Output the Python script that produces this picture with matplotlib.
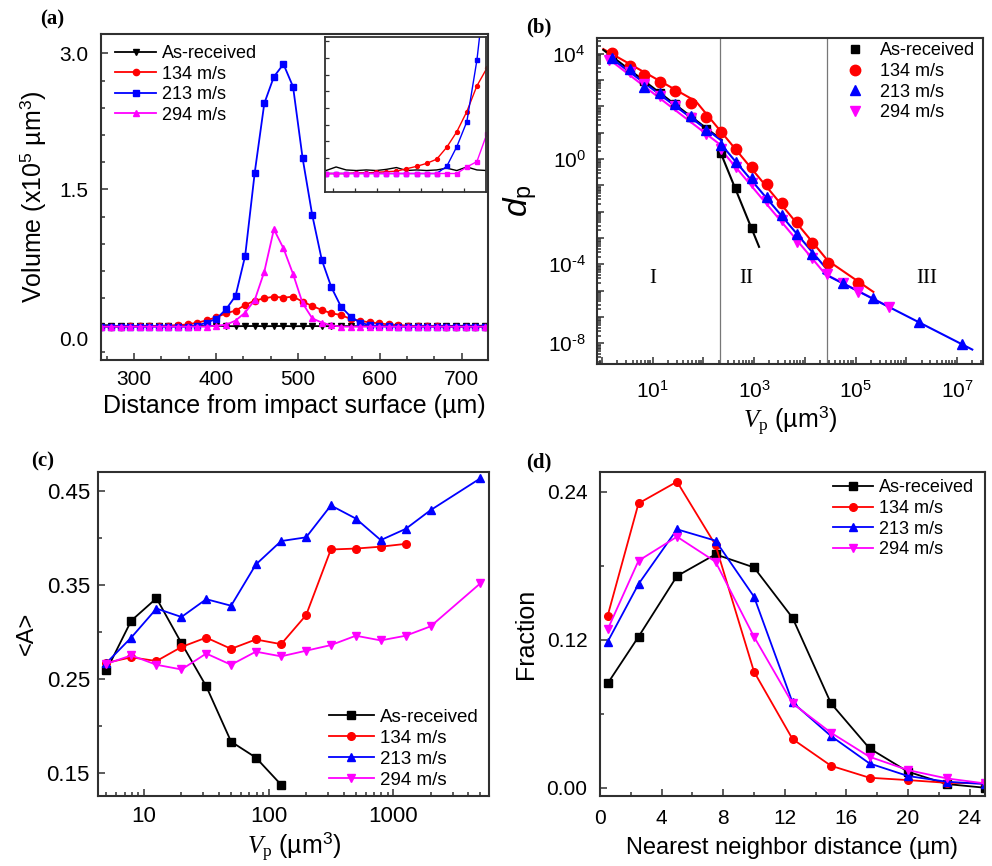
import numpy as np
import matplotlib
matplotlib.use("Agg")
import matplotlib.pyplot as plt
from matplotlib.ticker import FixedLocator, FuncFormatter, LogLocator, NullFormatter, MultipleLocator
from matplotlib.transforms import ScaledTranslation

plt.rcParams['font.family'] = ['Liberation Sans', 'DejaVu Sans']
plt.rcParams['mathtext.fontset'] = 'custom'
plt.rcParams['mathtext.rm'] = 'Liberation Serif'
plt.rcParams['mathtext.it'] = 'Liberation Serif:italic'
plt.rcParams['mathtext.sf'] = 'Liberation Sans'
plt.rcParams['mathtext.bf'] = 'Liberation Sans:italic'

labels = ['As-received', '134 m/s', '213 m/s', '294 m/s']
colors = ['#000000', '#ff0000', '#0000ff', '#ff00ff']

# ---------------- (a) volume profile ----------------
dist_a = [236.7, 248.4, 260.1, 271.8, 283.5, 295.2, 306.9, 318.6, 330.3, 342.0, 353.7, 365.4,
          377.1, 388.8, 400.5, 412.2, 423.9, 435.6, 447.3, 459.0, 470.7, 482.4, 494.1, 505.8,
          517.5, 529.2, 540.9, 552.6, 564.3, 576.0, 587.7, 599.4, 611.1, 622.8, 634.5, 646.2,
          657.9, 669.6, 681.3, 693.0, 704.7, 716.4, 728.1, 739.8]
vol_asrec = [-0.010, -0.004, -0.009, -0.010, -0.009, -0.010, -0.008, -0.005, -0.010, -0.009, -0.010, -0.009,
             -0.006, -0.010, -0.004, -0.009, -0.010, -0.009, -0.008, -0.010, -0.009, -0.008, -0.010, -0.009,
             -0.008, -0.010, -0.009, -0.008, -0.009, -0.010, -0.008, -0.009, -0.010, -0.008, -0.009, -0.010,
             -0.008, -0.009, -0.008, -0.007, -0.005, -0.006, -0.005, -0.008]
vol_134 = [-0.015, -0.015, -0.015, -0.014, -0.014, -0.013, -0.012, -0.011, -0.007, -0.003, 0.002, 0.009,
           0.029, 0.055, 0.089, 0.132, 0.162, 0.224, 0.272, 0.298, 0.316, 0.305, 0.316, 0.261,
           0.213, 0.169, 0.132, 0.114, 0.070, 0.048, 0.033, 0.020, 0.010, 0.003, -0.005, -0.010,
           -0.012, -0.013, -0.014, -0.015, -0.015, -0.015, -0.015, -0.015]
vol_213 = [-0.015, -0.015, -0.015, -0.015, -0.015, -0.015, -0.015, -0.015, -0.015, -0.015, -0.015, -0.015,
           -0.003, 0.030, 0.072, 0.175, 0.324, 0.765, 1.684, 2.449, 2.743, 2.882, 2.632, 1.842,
           1.217, 0.721, 0.419, 0.206, 0.096, 0.030, 0.000, -0.010, -0.013, -0.015, -0.015, -0.015,
           -0.015, -0.015, -0.015, -0.015, -0.015, -0.015, -0.015, -0.015]
vol_294 = [-0.015, -0.015, -0.015, -0.015, -0.015, -0.015, -0.015, -0.015, -0.015, -0.015, -0.015, -0.015,
           -0.015, -0.015, -0.004, 0.005, 0.052, 0.140, 0.279, 0.592, 1.059, 0.849, 0.566, 0.243,
           0.077, 0.030, 0.000, -0.015, -0.015, -0.015, -0.015, -0.015, -0.015, -0.015, -0.015, -0.015,
           -0.015, -0.015, -0.015, -0.015, -0.015, -0.015, -0.015, -0.015]

# ---------------- (b) d_p vs V_p ----------------
vp_b_asrec = [1.6, 3.56, 6.82, 13.9, 27.5, 56.2, 112, 219, 440, 897]
dp_b_asrec = [8.9e3, 2.8e3, 891, 316, 126, 39.8, 14.1, 1.66, 0.0776, 0.00251]
vp_b_134 = [1.6, 3.56, 6.82, 13.9, 27.5, 56.2, 112, 219, 440, 897, 1770, 3510, 6920, 14060, 28300, 110400]
dp_b_134 = [1.12e4, 3.59e3, 1.58e3, 832, 389, 133, 41.3, 11.1, 2.44, 0.519, 0.111, 0.0210, 0.00421,
            6.34e-4, 1.10e-4, 2.01e-5]
vp_b_213 = [1.6, 3.56, 6.82, 13.9, 27.5, 56.2, 112, 219, 440, 897, 1770, 3510, 6920, 14060,
            55800, 2.24e5, 1.78e6, 1.28e7]
dp_b_213 = [6920, 2630, 537, 316, 126, 43.6, 12.9, 3.55, 0.794, 0.186, 0.0372, 0.00759, 0.00145,
            2.51e-4, 2.0e-5, 5.13e-6, 6.61e-7, 9.33e-8]
vp_b_294 = [1.39, 3.56, 6.82, 13.9, 27.5, 56.2, 112, 219, 440, 897, 1770, 3510, 6920, 13700,
            26900, 55800, 1.10e5, 4.47e5]
dp_b_294 = [6030, 2000, 708, 251, 100, 35.5, 8.91, 2.51, 0.525, 0.126, 0.0251, 0.00501, 7.08e-4,
            1.70e-4, 4.32e-5, 2.0e-5, 9.12e-6, 2.45e-6]
# fitted segments (x pairs, y pairs)
fit_asrec = [([1.06, 229], [1.41e4, 5.37]), ([214, 1250], [1.93, 4.68e-4])]
fit_134 = [([1.06, 70.8], [1.51e4, 158]), ([70.8, 28200], [158, 1.41e-4]), ([28200, 2.24e5], [1.41e-4, 9.12e-6])]
fit_213 = [([1.26, 229], [8910, 5.01]), ([214, 26300], [3.98, 7.08e-5]), ([23200, 2.0e7], [4.57e-5, 5.89e-8])]
fit_294 = [([1.26, 214], [7080, 3.55]), ([214, 25100], [2.51, 4.37e-5]), ([25100, 5.01e5], [4.37e-5, 2.24e-6])]
regime_bounds = [213, 27000]
regime_names = ['I', 'II', 'III']

# ---------------- (c) <A> vs V_p ----------------
vp_c = [5, 7.9, 12.6, 20, 31.6, 50, 79, 126, 200, 316, 501, 794, 1259, 1995, 5012]
A_asrec = [0.259, 0.312, 0.336, 0.288, 0.242, 0.183, 0.166, 0.137]
A_134 = [0.267, 0.273, 0.269, 0.284, 0.294, 0.282, 0.292, 0.287, 0.318, 0.388, 0.389, 0.391, 0.394]
A_213 = [0.267, 0.294, 0.325, 0.316, 0.335, 0.328, 0.372, 0.397, 0.401, 0.435, 0.421, 0.398, 0.410, 0.430, 0.464]
A_294 = [0.266, 0.275, 0.265, 0.260, 0.277, 0.265, 0.279, 0.274, 0.280, 0.286, 0.296, 0.291, 0.296, 0.306, 0.352]

# ---------------- (d) nearest neighbour distance ----------------
nnd = [0.5, 2.5, 5, 7.5, 10, 12.5, 15, 17.5, 20, 22.5, 25]
frac_asrec = [0.0846, 0.1224, 0.1716, 0.1892, 0.1786, 0.1378, 0.0684, 0.0319, 0.0130, 0.0030, 0.0000]
frac_134 = [0.1395, 0.2305, 0.2481, 0.1968, 0.0941, 0.0395, 0.0178, 0.0081, 0.0062, 0.0040, 0.0035]
frac_213 = [0.1184, 0.1651, 0.2095, 0.2003, 0.1549, 0.0692, 0.0419, 0.0197, 0.0095, 0.0049, 0.0030]
frac_294 = [0.1284, 0.1840, 0.2035, 0.1832, 0.1224, 0.0684, 0.0446, 0.0251, 0.0143, 0.0076, 0.0035]

# ====================================================
W, H = 992, 866
fig = plt.figure(figsize=(W / 100, H / 100), dpi=100)


def box(l, r, t, b):
    return [l / W, 1 - b / H, (r - l) / W, (b - t) / H]


SP = '#303030'


def style(ax, fs=15):
    for s in ax.spines.values():
        s.set_linewidth(1.5)
        s.set_color(SP)
    ax.tick_params(which='both', direction='in', top=False, right=False, colors=SP,
                   labelcolor='black', labelsize=fs, width=1.1)
    ax.tick_params(which='major', length=5)
    ax.tick_params(which='minor', length=3)


def pow10(e):
    e = e.replace('-', '\u2010')
    return r'$\mathsf{10}^{\mathsf{' + e + '}}$'


# ---- (a)
axa = fig.add_axes(box(100.5, 487.5, 33.5, 360))
style(axa)
mk_a = ['v', 'o', 's', '^']
for y, c, m, lab in zip([vol_asrec, vol_134, vol_213, vol_294], colors, mk_a, labels):
    axa.plot(dist_a, y, color=c, marker=m, ms=4.5, lw=1.3, label=lab)
axa.set_xlim(259, 731.5)
axa.set_ylim(-0.383, 3.22)
axa.xaxis.set_major_locator(FixedLocator([300, 400, 500, 600, 700]))
axa.xaxis.set_minor_locator(MultipleLocator(100 / 3))
axa.yaxis.set_major_locator(FixedLocator([0.0, 1.5, 3.0]))
axa.yaxis.set_minor_locator(MultipleLocator(0.3))
axa.yaxis.set_major_formatter(FuncFormatter(lambda v, p: f'{v:.1f}'))
axa.tick_params(axis='y', pad=9)
axa.tick_params(axis='x', pad=7)
fig.canvas.draw()
for t in axa.get_yticklabels():
    if t.get_text() == '0.0':
        t.set_transform(t.get_transform() + ScaledTranslation(0, -0.13, fig.dpi_scale_trans))
axa.set_xlabel('Distance from impact surface (µm)', fontsize=18, labelpad=4)
axa.set_ylabel(r'Volume (x10$^{\mathsf{5}}$ µm$^{\mathsf{3}}$)', fontsize=18, labelpad=8)
axa.legend(loc='upper left', bbox_to_anchor=(0.037, 0.965), frameon=False, fontsize=13,
           handlelength=2.3, handletextpad=0.3, labelspacing=0.2, borderpad=0, borderaxespad=0)

# inset
axi = fig.add_axes(box(325, 485.5, 37, 192))
for s in axi.spines.values():
    s.set_linewidth(1.3)
    s.set_color(SP)
axi.plot(dist_a, vol_asrec, color='black', lw=1.0)
for y, c, m in zip([vol_134, vol_213, vol_294], colors[1:], ['o', 's', 's']):
    axi.plot(dist_a, y, color=c, marker=m, ms=2.8, lw=1.0)
axi.set_xlim(235.5, 422.2)
axi.set_ylim(-0.046, 0.214)
axi.xaxis.set_major_locator(FixedLocator([245, 270.5, 296, 321.5, 347, 372, 397]))
axi.yaxis.set_major_locator(FixedLocator([0.011, 0.039, 0.067, 0.095, 0.123, 0.151, 0.179, 0.207]))
axi.tick_params(direction='in', length=3, width=0.9, colors=SP, labelbottom=False, labelleft=False)

# ---- (b)
axb = fig.add_axes(box(596.7, 983.3, 37.5, 364.3))
axb.set_xscale('log')
axb.set_yscale('log')
style(axb)
for xv in regime_bounds:
    axb.axvline(xv, color='#777777', lw=0.9, zorder=1)
mk_b = ['s', 'o', '^', 'v']
ms_b = [5.5, 7.5, 7, 7]
fits = [fit_asrec, fit_134, fit_213, fit_294]
pts = [(vp_b_asrec, dp_b_asrec), (vp_b_134, dp_b_134), (vp_b_213, dp_b_213), (vp_b_294, dp_b_294)]
for i in [3, 2, 1, 0]:
    for xs, ys in fits[i]:
        axb.plot(xs, ys, color=colors[i], lw=1.5, zorder=2 + (i == 2))
handles_b = [None] * 4
for i in [0, 1, 3, 2]:
    handles_b[i], = axb.plot(pts[i][0], pts[i][1], ls='none', marker=mk_b[i], ms=ms_b[i],
                             color=colors[i], label=labels[i], zorder=4)
axb.set_xlim(0.785, 3.3e7)
axb.set_ylim(10 ** -7.79, 10 ** 4.62)
axb.xaxis.set_major_locator(FixedLocator([10.0 ** k for k in range(0, 8)]))
axb.xaxis.set_minor_locator(LogLocator(base=10, subs=range(2, 10), numticks=20))
axb.xaxis.set_minor_formatter(NullFormatter())
xlab_b = {1: '1', 3: '3', 5: '5', 7: '7'}
axb.xaxis.set_major_formatter(FuncFormatter(
    lambda v, p: pow10(xlab_b[int(round(np.log10(v)))]) if int(round(np.log10(v))) in xlab_b else ''))
axb.yaxis.set_major_locator(FixedLocator([10.0 ** k for k in range(-7, 5)]))
axb.yaxis.set_minor_locator(LogLocator(base=10, subs=range(2, 10), numticks=30))
axb.yaxis.set_minor_formatter(NullFormatter())
ylab_b = {4: '4', 0: '0', -4: '-4', -7: '-8'}
axb.yaxis.set_major_formatter(FuncFormatter(
    lambda v, p: pow10(ylab_b[int(round(np.log10(v)))]) if int(round(np.log10(v))) in ylab_b else ''))
axb.tick_params(axis='x', pad=12)
axb.tick_params(axis='y', pad=8)
axb.set_xlabel(r'$V_{\mathrm{p}}$ (µm$^{\mathsf{3}}$)', fontsize=18, labelpad=2)
axb.set_ylabel(r'$\mathbf{d}_{\mathsf{p}}$', fontsize=24, labelpad=6)
for name, xv in zip(regime_names, [10, 700, 2.5e6]):
    axb.text(xv, 10 ** -4.55, name, fontsize=15, family='Liberation Serif', ha='center', va='center')
axb.legend(handles=handles_b, loc='upper left', bbox_to_anchor=(0.645, 0.985), frameon=False,
           fontsize=13, handlelength=1.0, handletextpad=0.9, labelspacing=0.2, borderpad=0,
           borderaxespad=0, numpoints=1)

# ---- (c)
axc = fig.add_axes(box(98.3, 489.3, 471.7, 796))
axc.set_xscale('log')
style(axc)
axc.plot(vp_c[:len(A_asrec)], A_asrec, color=colors[0], marker='s', ms=5.5, lw=1.3, label=labels[0])
axc.plot(vp_c[:len(A_134)], A_134, color=colors[1], marker='o', ms=5.5, lw=1.3, label=labels[1])
axc.plot(vp_c[:len(A_213)], A_213, color=colors[2], marker='^', ms=6, lw=1.3, label=labels[2])
axc.plot(vp_c[:len(A_294)], A_294, color=colors[3], marker='v', ms=6, lw=1.3, label=labels[3])
axc.set_xlim(4.3, 5900)
axc.set_ylim(0.125, 0.471)
axc.xaxis.set_major_locator(FixedLocator([10, 100, 1000]))
axc.xaxis.set_major_formatter(FuncFormatter(lambda v, p: f'{int(round(v))}'))
axc.xaxis.set_minor_locator(LogLocator(base=10, subs=range(2, 10), numticks=20))
axc.xaxis.set_minor_formatter(NullFormatter())
axc.yaxis.set_major_locator(FixedLocator([0.15, 0.25, 0.35, 0.45]))
axc.yaxis.set_minor_locator(MultipleLocator(0.05))
axc.yaxis.set_major_formatter(FuncFormatter(lambda v, p: f'{v:.2f}'))
axc.tick_params(axis='both', labelsize=16)
axc.tick_params(axis='y', pad=6)
axc.tick_params(axis='x', pad=7)
axc.set_xlabel(r'$V_{\mathrm{p}}$ (µm$^{\mathsf{3}}$)', fontsize=18, labelpad=3)
axc.set_ylabel('<A>', fontsize=17, labelpad=6)
axc.legend(loc='lower left', bbox_to_anchor=(0.59, 0.023), frameon=False, fontsize=13.5,
           handlelength=2.4, handletextpad=0.3, labelspacing=0.2, borderpad=0, borderaxespad=0)

# ---- (d)
axd = fig.add_axes(box(600, 985, 471.7, 796))
style(axd)
for y, c, m, lab in zip([frac_asrec, frac_134, frac_213, frac_294], colors, ['s', 'o', '^', 'v'], labels):
    axd.plot(nnd, y, color=c, marker=m, ms=5.5 if m in 'so' else 6, lw=1.3, label=lab)
axd.set_xlim(0, 25)
axd.set_ylim(-0.0067, 0.2562)
axd.xaxis.set_major_locator(MultipleLocator(4))
axd.xaxis.set_minor_locator(MultipleLocator(2))
axd.yaxis.set_major_locator(FixedLocator([0.0, 0.12, 0.24]))
axd.yaxis.set_minor_locator(MultipleLocator(0.06))
axd.yaxis.set_major_formatter(FuncFormatter(lambda v, p: f'{v:.2f}'))
axd.tick_params(axis='y', pad=9)
axd.tick_params(axis='x', pad=9)
axd.set_xlabel('Nearest neighbor distance (µm)', fontsize=17, labelpad=7)
axd.set_ylabel('Fraction', fontsize=18, labelpad=6)
axd.legend(loc='upper left', bbox_to_anchor=(0.606, 0.976), frameon=False, fontsize=13,
           handlelength=2.2, handletextpad=0.35, labelspacing=0.2, borderpad=0, borderaxespad=0)

# panel labels
for txt, x, y in [('(a)', 40, 19), ('(b)', 526, 27), ('(c)', 31, 461), ('(d)', 526, 462)]:
    fig.text(x / W, 1 - y / H, txt, fontsize=15, fontweight='bold', family='Liberation Serif',
             ha='left', va='center')

fig.savefig('out.png', dpi=100)
